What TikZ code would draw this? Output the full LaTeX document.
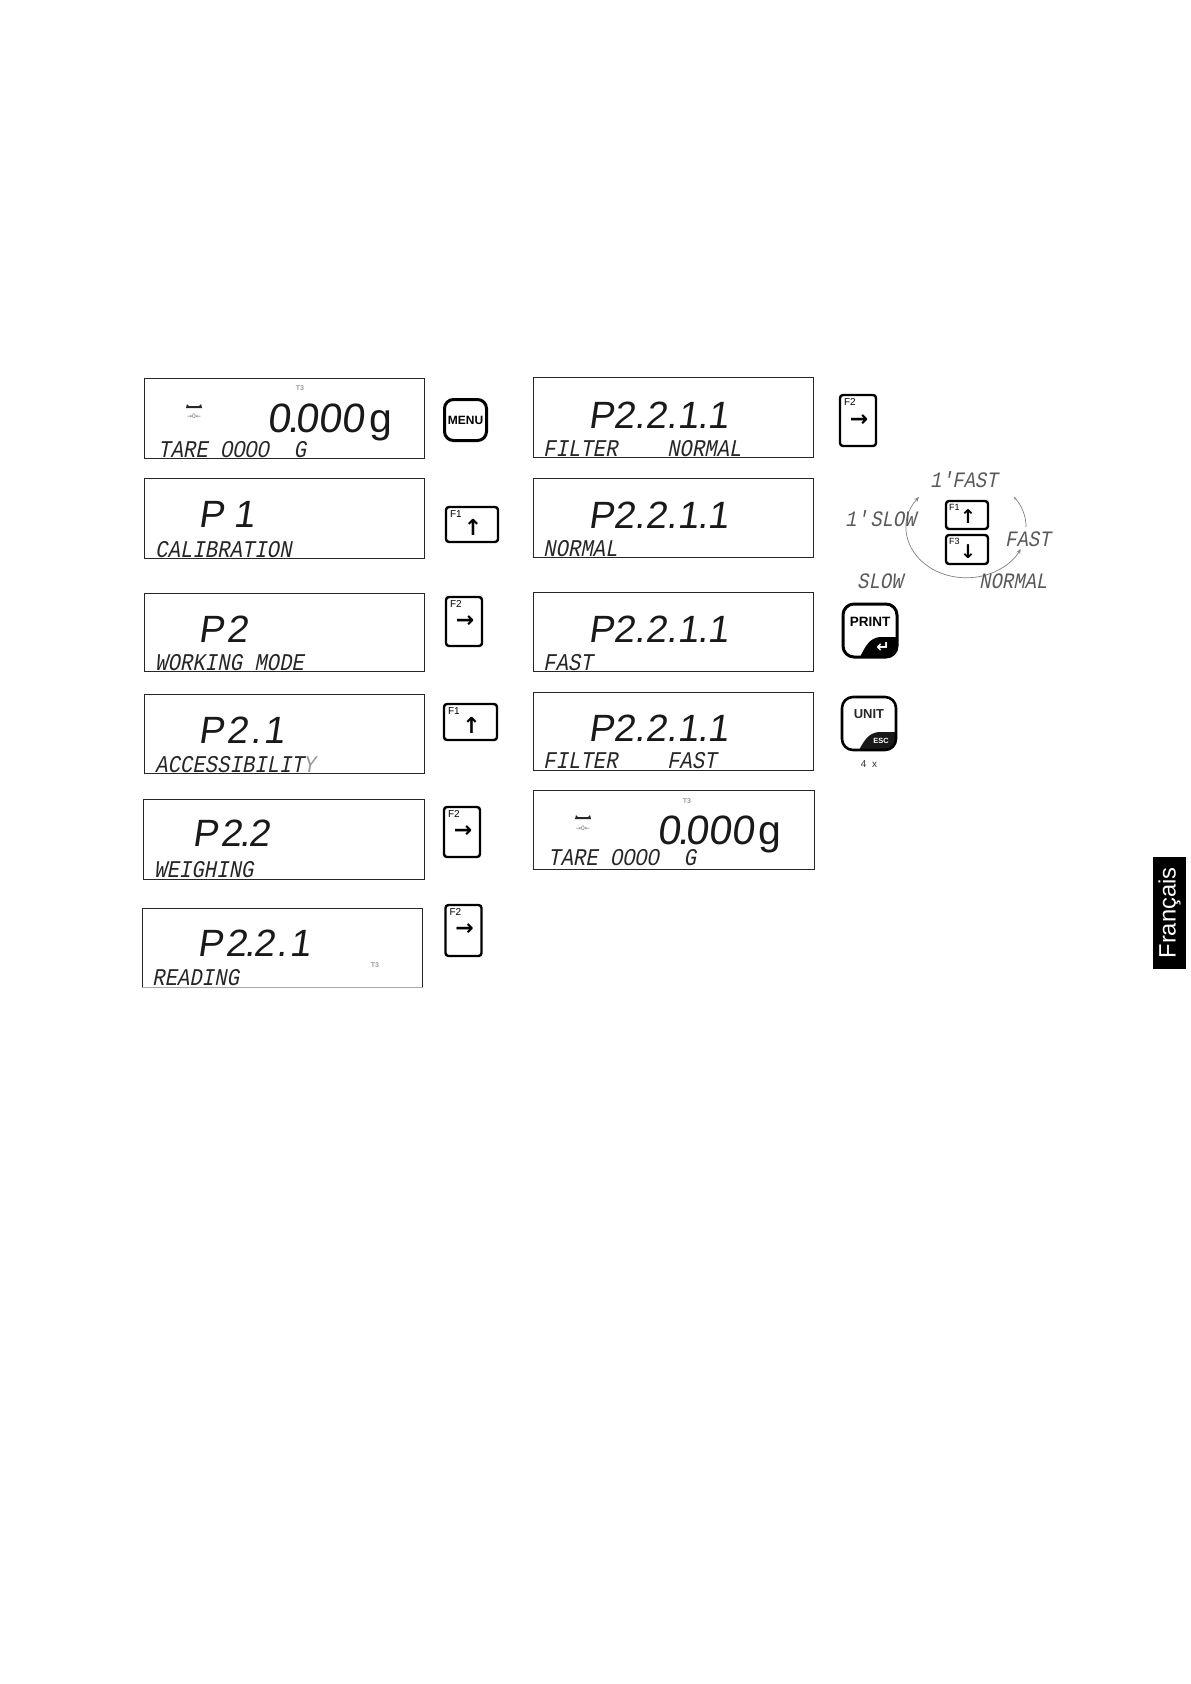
\documentclass[tikz,border=0pt]{standalone}
\usepackage{fontspec}
\usetikzlibrary{arrows.meta}
\setmainfont{Liberation Sans}
\newfontfamily\segsmall[FakeSlant=0.2,FakeStretch=0.86]{Liberation Mono}
\newfontfamily\segzero[FakeSlant=0.2,FakeStretch=0.95]{Liberation Sans}
\newfontfamily\segbig[FakeSlant=0.15]{Liberation Sans}
\newfontfamily\segval[FakeSlant=0.12]{Liberation Sans}
\newfontfamily\symb{DejaVu Sans}
\newfontfamily\symbb{DejaVu Sans Bold}
\newcommand\dt{\kern-3pt.\kern-3pt}
\newcommand\zz[1]{{\segzero\fontsize{23}{23}\selectfont #1}}
\newcommand\pfull{P\kern0pt 2.2\kern.5pt.1\kern-.75pt.\kern-.75pt 1}
\tikzset{
  display/.style={draw=black!85,line width=0.9pt,inner sep=0pt},
  lower/.style={anchor=base west,inner sep=0pt,text=black!85,font=\segsmall\fontsize{24}{24}\selectfont},
  lowerc/.style={lower,text=black!65,font=\segsmall\fontsize{22}{22}\selectfont},
  bigseg/.style={anchor=base west,inner sep=0pt,text=black!90,font=\segbig\fontsize{38}{38}\selectfont},
  valseg/.style={anchor=base west,inner sep=0pt,text=black!90,font=\segval\fontsize{41}{41}\selectfont},
  unitg/.style={anchor=base west,inner sep=0pt,text=black!90,font=\fontsize{41}{41}\selectfont},
  fkey/.style={draw=black,line width=2.4pt,rounded corners=3pt,inner sep=0pt},
  fname/.style={anchor=north west,inner sep=0pt,font=\fontsize{10}{10}\selectfont},
  farrow/.style={inner sep=0pt,font=\symbb\fontsize{22}{22}\selectfont},
  farrows/.style={inner sep=0pt,font=\symbb\fontsize{19}{19}\selectfont},
  softkey/.style={draw=black,line width=3pt,rounded corners=9pt,inner sep=0pt},
  faint/.style={inner sep=0pt,text=black!40,font=\bfseries\fontsize{7}{7}\selectfont},
  zeroicon/.style={inner sep=0pt,text=black!60,font=\symb\fontsize{6}{6}\selectfont},
  dial/.style={draw=black!50,line width=0.7pt}
}
\begin{document}
\begin{tikzpicture}[x=1pt,y=-1pt]
\useasboundingbox (0,0) rectangle (1191,1684);
% left displays
\node[display,minimum width=280.7pt,minimum height=80pt] (d1) at (284.3,418) {};
\node[display,minimum width=280.7pt,minimum height=80pt] (d2) at (284.3,518) {};
\node[display,minimum width=280.7pt,minimum height=78pt] (d3) at (284.3,632) {};
\node[display,minimum width=280.7pt,minimum height=79pt] (d4) at (284.3,733.5) {};
\node[display,minimum width=281pt,minimum height=80pt] (d5) at (283.5,839) {};
\node[display,minimum width=280.5pt,minimum height=79pt] (d6) at (282.3,947.5) {};
\draw[white,line width=1pt] (d6.south west) -- (d6.south east);
\draw[black!35,line width=0.9pt] (d6.south west) -- (d6.south east);
% right displays
\node[display,minimum width=280pt,minimum height=80pt] (r1) at (673,417) {};
\node[display,minimum width=280pt,minimum height=79pt] (r2) at (673,517.5) {};
\node[display,minimum width=280pt,minimum height=79pt] (r3) at (673,631.5) {};
\node[display,minimum width=280pt,minimum height=78pt] (r4) at (673,731) {};
\node[display,minimum width=281pt,minimum height=79pt] (r5) at (673.5,829.5) {};
% display 1
\node[zeroicon] (d1z) at (194,416) {→0←};
\fill[black!85] (187,404) -- (189,406) -- (199,406) -- (201,404) -- (202,408) -- (186,408) -- cycle;
\node[faint] (d1t) at (300,388) {T3};
\node[valseg] (d1v) at (267,432) {0\dt 000};
\node[unitg] (d1g) at (369,432) {g};
\node[lower] (d1l) at (158,457) {TARE~\zz{0000}~~G};
% others left
\node[bigseg] (d2b) at (198,527) {P\kern10pt 1};
\node[lower] (d2l) at (155,557) {CALIBRATION};
\node[bigseg] (d3b) at (198,642) {P\kern2.8pt 2};
\node[lower] (d3l) at (155,670) {WORKING~MODE};
\node[bigseg] (d4b) at (198,743) {P\kern2.8pt 2\kern2.75pt.\kern2.75pt 1};
\node[lower] (d4l) at (155,772) {ACCESSIBILIT};
\node[lower,text=black!40] (d4y) at (302.6,772) {Y};
\node[bigseg] (d5b) at (192,846) {P\kern2.8pt 2\kern-1.75pt.\kern-1.75pt 2};
\node[lower] (d5l) at (154,877) {WEIGHING};
\node[bigseg] (d6b) at (197,956) {P\kern2.8pt 2\kern-1.75pt.\kern-1.75pt 2\kern2.25pt.\kern2.25pt 1};
\node[lower] (d6l) at (152,985) {READING};
\node[faint] (d6t) at (375,965) {T3};
% right column
\node[bigseg] (r1b) at (588,428) {\pfull};
\node[lower] (r1l) at (543,456) {FILTER~~~~NORMAL};
\node[bigseg] (r2b) at (588,528) {\pfull};
\node[lower] (r2l) at (543,556) {NORMAL};
\node[bigseg] (r3b) at (588,642) {\pfull};
\node[lower] (r3l) at (543,670) {FAST};
\node[bigseg] (r4b) at (588,741) {\pfull};
\node[lower] (r4l) at (543,768) {FILTER~~~~FAST};
\node[zeroicon] (r5z) at (583,828) {→0←};
\fill[black!85] (576,815) -- (578,817) -- (588,817) -- (590,815) -- (591,819) -- (575,819) -- cycle;
\node[faint] (r5t) at (687,801) {T3};
\node[valseg] (r5v) at (657,844) {0\dt 000};
\node[unitg] (r5g) at (758,844) {g};
\node[lower] (r5l) at (548,865) {TARE~\zz{0000}~~G};
% MENU key
\node[softkey,minimum width=42pt,minimum height=41pt,font=\bfseries\fontsize{12}{12}\selectfont] (kmenu) at (465.5,420) {MENU};
% F keys left
\node[fkey,minimum width=52pt,minimum height=35pt] (k1) at (472,524.5) {};
\node[fname] at ([shift={(5,5)}]k1.north west) {F1};
\node[farrow] at ([shift={(1,3)}]k1.center) {↑};
\node[fkey,minimum width=36pt,minimum height=49pt] (k2) at (464,621.5) {};
\node[fname] at ([shift={(5,5)}]k2.north west) {F2};
\node[farrow] at ([shift={(1,0)}]k2.center) {→};
\node[fkey,minimum width=53pt,minimum height=36pt] (k3) at (470.5,722) {};
\node[fname] at ([shift={(5,5)}]k3.north west) {F1};
\node[farrow] at ([shift={(1,3)}]k3.center) {↑};
\node[fkey,minimum width=36pt,minimum height=50pt] (k4) at (462,832) {};
\node[fname] at ([shift={(5,5)}]k4.north west) {F2};
\node[farrow] at ([shift={(1,0)}]k4.center) {→};
\node[fkey,minimum width=36pt,minimum height=51pt] (k5) at (463.5,930.5) {};
\node[fname] at ([shift={(5,5)}]k5.north west) {F2};
\node[farrow] at ([shift={(1,-1)}]k5.center) {→};
% F keys right
\node[fkey,minimum width=36pt,minimum height=51pt] (k6) at (858,420.5) {};
\node[fname] at ([shift={(5,5)}]k6.north west) {F2};
\node[farrow] at ([shift={(1,0)}]k6.center) {→};
\node[fkey,minimum width=42pt,minimum height=28pt] (k7) at (967,515) {};
\node[fname,font=\fontsize{9}{9}\selectfont] at ([shift={(4,4)}]k7.north west) {F1};
\node[farrows] at ([shift={(1,2)}]k7.center) {↑};
\node[fkey,minimum width=42pt,minimum height=29pt] (k8) at (967,549.5) {};
\node[fname,font=\fontsize{9}{9}\selectfont] at ([shift={(4,4)}]k8.north west) {F3};
\node[farrows] at ([shift={(1,2)}]k8.center) {↓};
% dial
\coordinate (arcA) at (919,497);
\coordinate (arcB) at (1014,497);
\draw[dial,{Stealth[length=5pt,width=4pt]}-{Stealth[length=5pt,width=4pt]}] (arcA) arc[start angle=218,end angle=25,x radius=60,y radius=50];
\draw[dial,{Stealth[length=3pt,width=2.5pt]}-] (arcB) arc[start angle=-37,end angle=0,x radius=60,y radius=50];
\node[lowerc] (l1) at (930,487) {1'\kern-12pt~FAST};
\node[lowerc] (l2) at (845,526) {1'\kern-9pt~SLOW};
\node[lowerc] (l3) at (1005,546) {FAST};
\node[lowerc] (l4) at (857,588) {SLOW};
\node[lowerc] (l5) at (979,588) {NORMAL};
% PRINT key
\begin{scope}
\clip[rounded corners=11pt] (843,604) rectangle (897,657);
\fill[black] (860,657) .. controls (866,645) and (870,638) .. (880,637) -- (897,637) -- (897,657) -- cycle;
\end{scope}
\node[softkey,rounded corners=11pt,minimum width=54pt,minimum height=53pt] (kprint) at (870,630.5) {};
\node[inner sep=0pt,font=\bfseries\fontsize{13.5}{14}\selectfont] (kprintt) at (870,622) {PRINT};
\node[inner sep=0pt,text=white,font=\symbb\fontsize{16}{16}\selectfont] (kret) at (883,647) {↵};
% UNIT key
\begin{scope}
\clip[rounded corners=11pt] (842,697) rectangle (896,750);
\fill[black!90] (859,750) .. controls (865,739) and (869,733) .. (879,732) -- (896,732) -- (896,750) -- cycle;
\end{scope}
\node[softkey,line width=2.6pt,rounded corners=11pt,minimum width=54pt,minimum height=53pt] (kunit) at (869,723.5) {};
\node[inner sep=0pt,text=black!85,font=\bfseries\fontsize{13}{14}\selectfont] (kunitt) at (869,714) {UNIT};
\node[inner sep=0pt,text=white,font=\bfseries\fontsize{7.5}{8}\selectfont] (kesc) at (881,741) {ESC};
\node[inner sep=0pt,text=black!80,font=\fontsize{10}{10}\selectfont] (times) at (869,764) {4~~x};
% language tab
\node[fill=black,minimum width=33pt,minimum height=112pt,inner sep=0pt] (tab) at (1169.5,913) {};
\node[rotate=90,text=white,inner sep=0pt,font=\fontsize{23.7}{24}\selectfont] (tabt) at (1169.5,913) {Français};
\end{tikzpicture}
\end{document}
